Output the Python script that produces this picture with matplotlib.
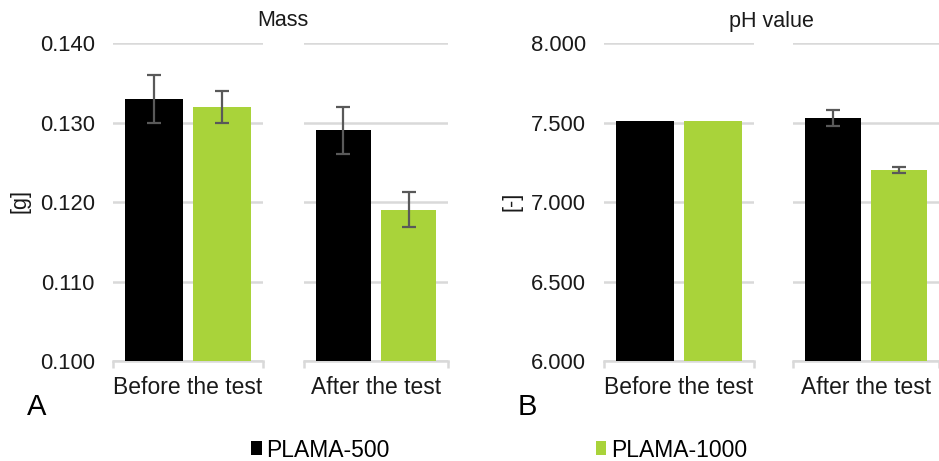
import matplotlib
matplotlib.use("Agg")
import matplotlib.pyplot as plt
from matplotlib.patches import Patch

plt.rcParams['font.family'] = ['Liberation Sans', 'DejaVu Sans']

# measured data
series = ['PLAMA-500', 'PLAMA-1000']
colors = ['#000000', '#a9d33a']
groups = ['Before the test', 'After the test']

mass = [[0.133, 0.132], [0.129, 0.119]]
mass_err = [[0.003, 0.002], [0.003, 0.0022]]
mass_ticks = [0.100, 0.110, 0.120, 0.130, 0.140]

ph = [[7.51, 7.51], [7.53, 7.20]]
ph_err = [[0.0, 0.0], [0.05, 0.02]]
ph_ticks = [6.0, 6.5, 7.0, 7.5, 8.0]

W, H = 939, 461
fig = plt.figure(figsize=(W / 100, H / 100), dpi=100)

grid_c = '#d9d9d9'
text_c = '#1a1a1a'


def px_axes(x0, x1, y0, y1):
    # pixel box -> figure axes
    return fig.add_axes([x0 / W, 1 - y1 / H, (x1 - x0) / W, (y1 - y0) / H])


def draw_chart(boxes, vals, errs, ticks, fmt, title, tx, ylabel, ylx, letter, lx):
    for gi, (x0, x1) in enumerate(boxes):
        ax = px_axes(x0, x1, 43, 361)
        for si in range(2):
            e = errs[gi][si]
            ax.bar(si, vals[gi][si], width=0.84, color=colors[si], zorder=2)
            if e > 0:
                ax.errorbar(si, vals[gi][si], yerr=e, fmt='none', ecolor='#595959',
                            elinewidth=1.6, capsize=5, capthick=1.6, zorder=3)
        ax.set_xlim(-0.6, 1.6)
        ax.set_ylim(ticks[0], ticks[-1])
        ax.set_yticks(ticks)
        ax.yaxis.grid(True, color=grid_c, lw=1.8, zorder=0)
        ax.set_axisbelow(True)
        for s in ['top', 'right', 'left']:
            ax.spines[s].set_visible(False)
        ax.spines['bottom'].set_color(grid_c)
        ax.spines['bottom'].set_linewidth(1.8)
        ax.spines['bottom'].set_zorder(1)
        ax.set_xticks([0.5])
        ax.set_xticklabels([groups[gi]], fontsize=16.5, color=text_c)
        ax.tick_params(axis='x', length=0, pad=11)
        ax.set_xticks([-0.6, 1.6], minor=True)
        ax.tick_params(axis='x', which='minor', length=5, width=1.8, color=grid_c)
        if gi == 0:
            ax.set_yticklabels([fmt.format(t) for t in ticks], fontsize=15.8, color=text_c)
            ax.tick_params(axis='y', length=0, pad=13)
        else:
            ax.tick_params(axis='y', length=0, labelleft=False)
    fig.text(tx / W, 1 - 21 / H, title, fontsize=15.5, color=text_c, ha='center', va='center')
    fig.text(ylx / W, 1 - 201 / H, ylabel, fontsize=15.5, color=text_c, rotation=90,
             ha='center', va='center')
    fig.text(lx / W, 1 - 407 / H, letter, fontsize=21, color='#000000', ha='center', va='center')


draw_chart([(113, 263), (304, 448)], mass, mass_err, mass_ticks, '{:.3f}',
           'Mass', 283, '[g]', 20, 'A', 37)
draw_chart([(604, 754), (793, 939)], ph, ph_err, ph_ticks, '{:.3f}',
           'pH value', 771, '[-]', 512, 'B', 527)

handles = [Patch(facecolor=c, edgecolor='none') for c in colors]
fig.legend(handles, series, loc='center', bbox_to_anchor=(499 / W, 1 - 450 / H), ncol=2,
           frameon=False, fontsize=16.5, handlelength=0.45, handleheight=0.55,
           handletextpad=0.2, columnspacing=9.0)

fig.savefig('out.png', dpi=100)
